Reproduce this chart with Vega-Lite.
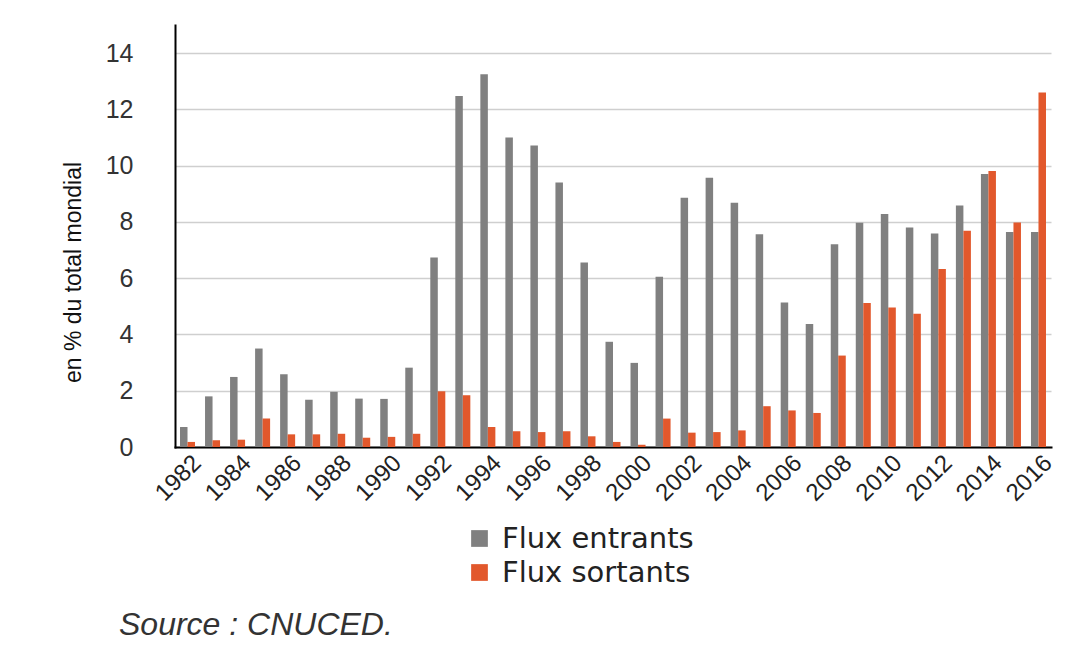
{
  "$schema": "https://vega.github.io/schema/vega-lite/v6.json",
  "width": 876,
  "height": 422,
  "autosize": "none",
  "padding": {"left": 175, "top": 25, "right": 16, "bottom": 203},
  "background": "white",
  "data": {
    "values": [
      {"year": 1982, "type": "Flux entrants", "value": 0.71}, {"year": 1982, "type": "Flux sortants", "value": 0.18},
      {"year": 1983, "type": "Flux entrants", "value": 1.80}, {"year": 1983, "type": "Flux sortants", "value": 0.24},
      {"year": 1984, "type": "Flux entrants", "value": 2.49}, {"year": 1984, "type": "Flux sortants", "value": 0.26},
      {"year": 1985, "type": "Flux entrants", "value": 3.50}, {"year": 1985, "type": "Flux sortants", "value": 1.01},
      {"year": 1986, "type": "Flux entrants", "value": 2.59}, {"year": 1986, "type": "Flux sortants", "value": 0.45},
      {"year": 1987, "type": "Flux entrants", "value": 1.68}, {"year": 1987, "type": "Flux sortants", "value": 0.45},
      {"year": 1988, "type": "Flux entrants", "value": 1.96}, {"year": 1988, "type": "Flux sortants", "value": 0.47},
      {"year": 1989, "type": "Flux entrants", "value": 1.72}, {"year": 1989, "type": "Flux sortants", "value": 0.33},
      {"year": 1990, "type": "Flux entrants", "value": 1.71}, {"year": 1990, "type": "Flux sortants", "value": 0.36},
      {"year": 1991, "type": "Flux entrants", "value": 2.82}, {"year": 1991, "type": "Flux sortants", "value": 0.47},
      {"year": 1992, "type": "Flux entrants", "value": 6.74}, {"year": 1992, "type": "Flux sortants", "value": 1.98},
      {"year": 1993, "type": "Flux entrants", "value": 12.48}, {"year": 1993, "type": "Flux sortants", "value": 1.84},
      {"year": 1994, "type": "Flux entrants", "value": 13.25}, {"year": 1994, "type": "Flux sortants", "value": 0.71},
      {"year": 1995, "type": "Flux entrants", "value": 11.0}, {"year": 1995, "type": "Flux sortants", "value": 0.56},
      {"year": 1996, "type": "Flux entrants", "value": 10.72}, {"year": 1996, "type": "Flux sortants", "value": 0.53},
      {"year": 1997, "type": "Flux entrants", "value": 9.40}, {"year": 1997, "type": "Flux sortants", "value": 0.56},
      {"year": 1998, "type": "Flux entrants", "value": 6.56}, {"year": 1998, "type": "Flux sortants", "value": 0.38},
      {"year": 1999, "type": "Flux entrants", "value": 3.74}, {"year": 1999, "type": "Flux sortants", "value": 0.18},
      {"year": 2000, "type": "Flux entrants", "value": 2.99}, {"year": 2000, "type": "Flux sortants", "value": 0.08},
      {"year": 2001, "type": "Flux entrants", "value": 6.05}, {"year": 2001, "type": "Flux sortants", "value": 1.01},
      {"year": 2002, "type": "Flux entrants", "value": 8.86}, {"year": 2002, "type": "Flux sortants", "value": 0.51},
      {"year": 2003, "type": "Flux entrants", "value": 9.57}, {"year": 2003, "type": "Flux sortants", "value": 0.53},
      {"year": 2004, "type": "Flux entrants", "value": 8.68}, {"year": 2004, "type": "Flux sortants", "value": 0.59},
      {"year": 2005, "type": "Flux entrants", "value": 7.56}, {"year": 2005, "type": "Flux sortants", "value": 1.45},
      {"year": 2006, "type": "Flux entrants", "value": 5.14}, {"year": 2006, "type": "Flux sortants", "value": 1.30},
      {"year": 2007, "type": "Flux entrants", "value": 4.37}, {"year": 2007, "type": "Flux sortants", "value": 1.21},
      {"year": 2008, "type": "Flux entrants", "value": 7.21}, {"year": 2008, "type": "Flux sortants", "value": 3.25},
      {"year": 2009, "type": "Flux entrants", "value": 7.97}, {"year": 2009, "type": "Flux sortants", "value": 5.12},
      {"year": 2010, "type": "Flux entrants", "value": 8.28}, {"year": 2010, "type": "Flux sortants", "value": 4.96},
      {"year": 2011, "type": "Flux entrants", "value": 7.80}, {"year": 2011, "type": "Flux sortants", "value": 4.74},
      {"year": 2012, "type": "Flux entrants", "value": 7.59}, {"year": 2012, "type": "Flux sortants", "value": 6.33},
      {"year": 2013, "type": "Flux entrants", "value": 8.58}, {"year": 2013, "type": "Flux sortants", "value": 7.69},
      {"year": 2014, "type": "Flux entrants", "value": 9.70}, {"year": 2014, "type": "Flux sortants", "value": 9.81},
      {"year": 2015, "type": "Flux entrants", "value": 7.64}, {"year": 2015, "type": "Flux sortants", "value": 7.98},
      {"year": 2016, "type": "Flux entrants", "value": 7.64}, {"year": 2016, "type": "Flux sortants", "value": 12.60}
    ]
  },
  "title": {
    "text": "Source : CNUCED.",
    "orient": "bottom",
    "anchor": "start",
    "frame": "group",
    "offset": 22,
    "dx": -56,
    "font": "Liberation Sans",
    "fontSize": 32,
    "fontStyle": "italic",
    "fontWeight": "normal",
    "color": "#333333"
  },
  "mark": {"type": "bar"},
  "encoding": {
    "x": {
      "field": "year",
      "type": "ordinal",
      "scale": {"paddingInner": 0.4, "paddingOuter": 0.2},
      "axis": {
        "title": null,
        "values": [1982, 1984, 1986, 1988, 1990, 1992, 1994, 1996, 1998, 2000, 2002, 2004, 2006, 2008, 2010, 2012, 2014, 2016],
        "labelAngle": -45,
        "labelAlign": "right",
        "labelBaseline": "middle",
        "labelFont": "Liberation Sans",
        "labelFontSize": 24,
        "labelColor": "#222222",
        "labelPadding": 12,
        "labelOffset": 10,
        "ticks": false,
        "domainColor": "#000000",
        "domainWidth": 2,
        "grid": false
      }
    },
    "xOffset": {"field": "type", "type": "nominal", "scale": {"paddingInner": 0, "paddingOuter": 0}},
    "y": {
      "field": "value",
      "type": "quantitative",
      "scale": {"domain": [0, 15], "nice": false},
      "axis": {
        "title": "en % du total mondial",
        "titleFont": "Liberation Sans",
        "titleFontSize": 23,
        "titleFontWeight": "normal",
        "titleColor": "#111111",
        "titleAngle": -90,
        "titleAlign": "center",
        "titleBaseline": "middle",
        "titleX": -102,
        "titleY": 247,
        "values": [0, 2, 4, 6, 8, 10, 12, 14],
        "labelFont": "Liberation Sans",
        "labelFontSize": 25,
        "labelColor": "#333333",
        "labelPadding": 42,
        "ticks": false,
        "domainColor": "#000000",
        "domainWidth": 2,
        "grid": true,
        "gridColor": "#cfcfcf",
        "gridWidth": 1.5
      }
    },
    "color": {
      "field": "type",
      "type": "nominal",
      "scale": {"domain": ["Flux entrants", "Flux sortants"], "range": ["#808080", "#E2582C"]},
      "legend": {
        "title": null,
        "orient": "none",
        "legendX": 290,
        "legendY": 499,
        "symbolType": "square",
        "symbolSize": 280,
        "symbolStrokeWidth": 0,
        "labelFont": "DejaVu Sans",
        "labelFontSize": 29,
        "labelLimit": 500,
        "labelColor": "#222222",
        "labelOffset": 8,
        "rowPadding": 4
      }
    }
  },
  "config": {
    "view": {"stroke": null},
    "axis": {"domainCap": "square"}
  }
}
